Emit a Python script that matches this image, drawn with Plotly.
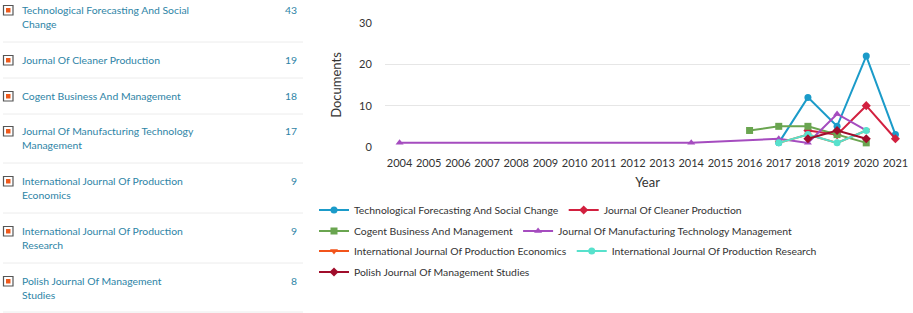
import plotly.graph_objects as go

# left-hand list: journals and their document counts
journals = [
    "Technological Forecasting And Social Change",
    "Journal Of Cleaner Production",
    "Cogent Business And Management",
    "Journal Of Manufacturing Technology Management",
    "International Journal Of Production Economics",
    "International Journal Of Production Research",
    "Polish Journal Of Management Studies",
]
journal_labels = [
    "Technological Forecasting And Social<br>Change",
    "Journal Of Cleaner Production",
    "Cogent Business And Management",
    "Journal Of Manufacturing Technology<br>Management",
    "International Journal Of Production<br>Economics",
    "International Journal Of Production<br>Research",
    "Polish Journal Of Management<br>Studies",
]
doc_counts = [43, 19, 18, 17, 9, 9, 8]

year_ticks = list(range(2004, 2022))

# documents per year, per journal
tech_years = [2017, 2018, 2019, 2020, 2021]
tech_docs = [1, 12, 5, 22, 3]
cleaner_years = [2018, 2019, 2020, 2021]
cleaner_docs = [4, 3, 10, 2]
cogent_years = [2016, 2017, 2018, 2019, 2020]
cogent_docs = [4, 5, 5, 3, 1]
manuf_years = [2004, 2014, 2017, 2018, 2019, 2020]
manuf_docs = [1, 1, 2, 1, 8, 4]
econ_years = [2017, 2018, 2019, 2020]
econ_docs = [1, 3, 1, 4]
research_years = [2017, 2018, 2019, 2020]
research_docs = [1, 3, 1, 4]
polish_years = [2018, 2019, 2020]
polish_docs = [2, 4, 2]

series = [
    (tech_years, tech_docs, "#1b9bc9", "circle", "legend"),
    (cleaner_years, cleaner_docs, "#d2203f", "diamond", "legend"),
    (cogent_years, cogent_docs, "#6aa550", "square", "legend2"),
    (manuf_years, manuf_docs, "#a54cbf", "triangle-up", "legend2"),
    (econ_years, econ_docs, "#f2541b", "triangle-down", "legend3"),
    (research_years, research_docs, "#57e1cc", "circle", "legend3"),
    (polish_years, polish_docs, "#a00d2b", "diamond", "legend4"),
]

W, H = 913, 313
L, R, T, B = 385, 3, 23, 166
PW, PH = W - L - R, H - T - B


def px(x):
    return (x - L) / PW


def py(y):
    return (H - B - y) / PH


FONT = "Lato, 'Open Sans', sans-serif"
LINK = "#2e84a6"
TXT = 10.4

fig = go.Figure()
for (xs, ys, color, sym, leg), name in zip(series, journals):
    fig.add_trace(go.Scatter(
        x=xs, y=ys, name=name, mode='lines+markers', legend=leg,
        line=dict(color=color, width=2),
        marker=dict(color=color, symbol=sym, size=7),
        cliponaxis=False,
    ))

# the list on the left
row_tops = [10, 60, 96, 131, 181, 231, 281]
separators = [42, 78, 114, 163, 213, 263, 312]
annotations = []
shapes = []
for label, count, yc in zip(journal_labels, doc_counts, row_tops):
    annotations.append(dict(
        text=label, x=px(20), y=py(yc - 8), xref='paper', yref='paper',
        xanchor='left', yanchor='top', align='left', showarrow=False,
        font=dict(family=FONT, size=TXT, color=LINK)))
    annotations.append(dict(
        text=str(count), x=px(299), y=py(yc), xref='paper', yref='paper',
        xanchor='right', yanchor='middle', showarrow=False,
        font=dict(family=FONT, size=TXT, color=LINK)))
    shapes.append(dict(type='rect', xref='paper', yref='paper',
                       x0=px(3.5), x1=px(13), y0=py(yc - 4.5), y1=py(yc + 5),
                       line=dict(color='#555555', width=1.2), fillcolor='white'))
    shapes.append(dict(type='rect', xref='paper', yref='paper',
                       x0=px(6), x1=px(10.5), y0=py(yc - 2), y1=py(yc + 2.5),
                       line=dict(width=0), fillcolor='#ee5a1c'))
for ys in separators:
    shapes.append(dict(type='line', xref='paper', yref='paper',
                       x0=px(3), x1=px(303), y0=py(ys), y1=py(ys),
                       line=dict(color='#ececec', width=1)))


def legend_row(yc):
    return dict(orientation='h', xref='container', yref='container',
                x=314 / W, y=(H - yc) / H, xanchor='left', yanchor='middle',
                font=dict(family=FONT, size=TXT, color='#333333'),
                itemwidth=30, bgcolor='rgba(0,0,0,0)')


fig.update_layout(
    width=W, height=H,
    margin=dict(l=L, r=R, t=T, b=B),
    paper_bgcolor='white', plot_bgcolor='white',
    font=dict(family=FONT, size=11, color='#333333'),
    showlegend=True,
    legend=legend_row(210),
    legend2=legend_row(231),
    legend3=legend_row(251),
    legend4=legend_row(272),
    xaxis=dict(range=[2003.5, 2021.5], tickvals=year_ticks, showgrid=False,
               zeroline=False, showline=False, ticks='outside', ticklen=6,
               tickcolor='rgba(0,0,0,0)',
               title=dict(text='Year', font=dict(size=13), standoff=9),
               tickfont=dict(size=11)),
    yaxis=dict(range=[0, 30], dtick=10, showgrid=True, gridcolor='#e6e6e6',
               zeroline=False, showline=False, ticks='outside', ticklen=10,
               tickcolor='rgba(0,0,0,0)',
               title=dict(text='Documents', font=dict(size=13), standoff=14),
               tickfont=dict(size=11)),
    annotations=annotations,
    shapes=shapes,
)

fig.write_html("out.html", config={'displayModeBar': False},
               post_script="document.body.style.margin='0';"
                           "document.body.style.overflow='hidden';")
